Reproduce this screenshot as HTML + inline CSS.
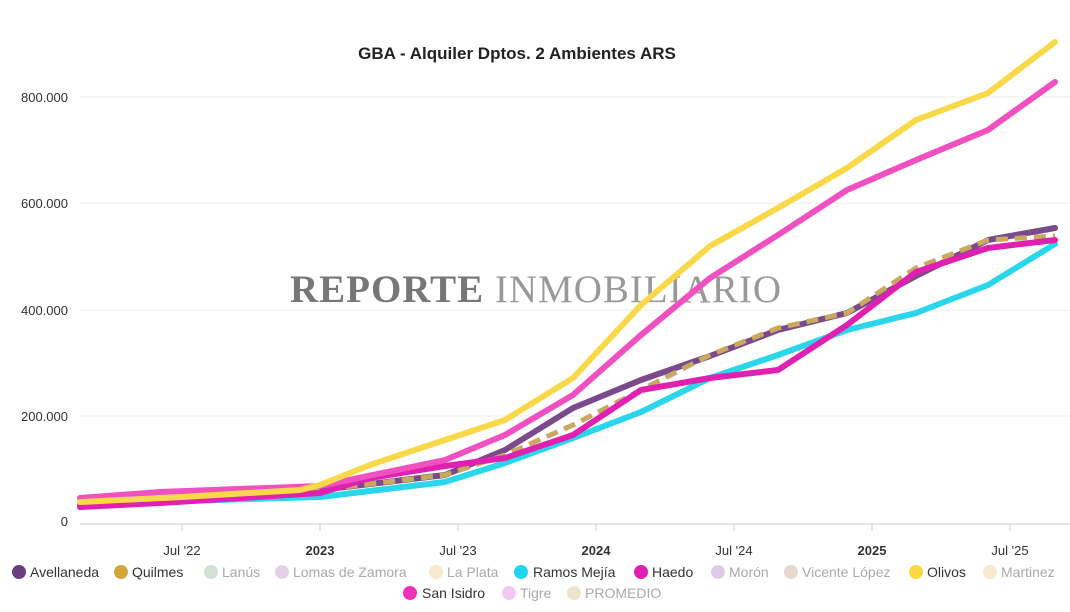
<!DOCTYPE html>
<html><head><meta charset="utf-8"><style>
body{margin:0;background:#fff;}
svg{display:block;font-family:"Liberation Sans",sans-serif;}
</style></head><body>
<svg width="1070" height="612" viewBox="0 0 1070 612">
<text x="517" y="59" text-anchor="middle" font-size="17" font-weight="bold" fill="#222">GBA - Alquiler Dptos. 2 Ambientes ARS</text>
<g stroke="#ececec" stroke-width="1">
<line x1="80" y1="97" x2="1070" y2="97"/><line x1="80" y1="203" x2="1070" y2="203"/><line x1="80" y1="310" x2="1070" y2="310"/><line x1="80" y1="416" x2="1070" y2="416"/>
</g>
<line x1="80" y1="524" x2="1070" y2="524" stroke="#ccc"/>
<g stroke="#ccc"><line x1="182" y1="524" x2="182" y2="531"/><line x1="320" y1="524" x2="320" y2="531"/><line x1="458" y1="524" x2="458" y2="531"/><line x1="596" y1="524" x2="596" y2="531"/><line x1="734" y1="524" x2="734" y2="531"/><line x1="872" y1="524" x2="872" y2="531"/><line x1="1010" y1="524" x2="1010" y2="531"/></g>
<g font-size="13" fill="#333" text-anchor="end">
<text x="68" y="102">800.000</text><text x="68" y="208">600.000</text><text x="68" y="315">400.000</text><text x="68" y="421">200.000</text><text x="68" y="526">0</text>
</g>
<g font-size="13" fill="#333" text-anchor="middle">
<text x="182" y="555">Jul '22</text><text x="320" y="555" font-weight="bold">2023</text><text x="458" y="555">Jul '23</text><text x="596" y="555" font-weight="bold">2024</text><text x="734" y="555">Jul '24</text><text x="872" y="555" font-weight="bold">2025</text><text x="1010" y="555">Jul '25</text>
</g>
<text x="536" y="302" text-anchor="middle" font-family="Liberation Serif,serif" font-size="39" letter-spacing="1"><tspan fill="#777" font-weight="bold">REPORTE</tspan><tspan fill="#999"> INMOBILIARIO</tspan></text>
<g fill="none" stroke-width="6" stroke-linejoin="round" stroke-linecap="round">
<polyline stroke="#2ad6ea" points="80,504 320,497 445,482 505,463 573,438 641,412 710,378 778,355 847,330 916,313 988,285 1055,244"/>
<polyline stroke="#7b4a8a" points="80,506 320,490 445,475 505,450 573,408 641,380 710,356 778,330 847,313 916,276 988,240 1055,228"/>
<polyline stroke="#c9a860" stroke-width="5" stroke-linecap="butt" stroke-dasharray="12,7" points="80,503 320,490 445,475 505,455 573,425 641,390 710,355 778,328 847,313 916,268 988,240 1055,236"/>
<polyline stroke="#e020b0" points="80,507 160,503 320,493 370,478 445,466 505,458 573,435 641,390 710,378 778,370 847,325 916,272 988,248 1055,240"/>
<polyline stroke="#f050c0" points="80,498 160,492 320,486 445,460 505,435 573,395 641,335 710,278 778,235 847,190 916,160 988,130 1055,82"/>
<polyline stroke="#f9d94a" points="80,502 182,497 300,490 320,485 370,465 445,440 505,420 573,378 641,305 710,246 778,208 847,168 916,120 988,93 1055,42"/>
</g>
<g font-size="14">
<circle cx="19" cy="572" r="7" fill="#6a3d7c"/><text x="30" y="577" fill="#333">Avellaneda</text>
<circle cx="121" cy="572" r="7" fill="#d0a83a"/><text x="132" y="577" fill="#333">Quilmes</text>
<circle cx="211" cy="572" r="7" fill="#d4e0d4"/><text x="222" y="577" fill="#aaa">Lanús</text>
<circle cx="282" cy="572" r="7" fill="#e2d2e6"/><text x="293" y="577" fill="#aaa">Lomas de Zamora</text>
<circle cx="436" cy="572" r="7" fill="#f5ead0"/><text x="447" y="577" fill="#aaa">La Plata</text>
<circle cx="521" cy="572" r="7" fill="#1ed6ee"/><text x="533" y="577" fill="#333">Ramos Mejía</text>
<circle cx="641" cy="572" r="7" fill="#e020b0"/><text x="652" y="577" fill="#333">Haedo</text>
<circle cx="718" cy="572" r="7" fill="#ddcce6"/><text x="729" y="577" fill="#aaa">Morón</text>
<circle cx="791" cy="572" r="7" fill="#e6d8cc"/><text x="802" y="577" fill="#aaa">Vicente López</text>
<circle cx="916" cy="572" r="7" fill="#fbd840"/><text x="927" y="577" fill="#333">Olivos</text>
<circle cx="990" cy="572" r="7" fill="#f5ead0"/><text x="1001" y="577" fill="#aaa">Martinez</text>
<circle cx="410" cy="593" r="7" fill="#f030b8"/><text x="422" y="598" fill="#333">San Isidro</text>
<circle cx="509" cy="593" r="7" fill="#f0c8f0"/><text x="520" y="598" fill="#aaa">Tigre</text>
<circle cx="574" cy="593" r="7" fill="#ece4cc"/><text x="585" y="598" fill="#aaa">PROMEDIO</text>
</g>
</svg>
</body></html>
